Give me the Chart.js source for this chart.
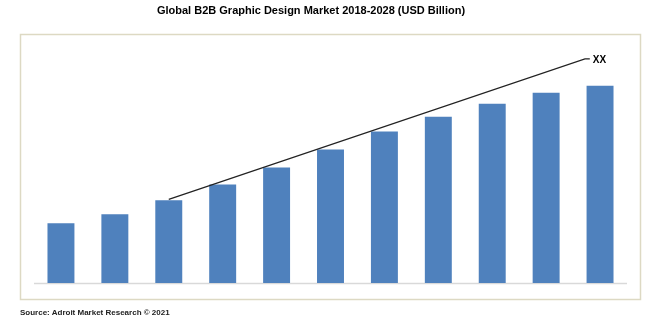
<!DOCTYPE html>
<html>
<head>
<meta charset="utf-8">
<script src="https://cdn.jsdelivr.net/npm/chart.js@4/dist/chart.umd.min.js"></script>
<style>
  html, body { margin: 0; padding: 0; background: #fff; }
  #wrap { position: relative; width: 661px; height: 329px; }
  #title {
    position: absolute; left: 0; top: 4px; width: 622px; text-align: center;
    font: bold 11px "Liberation Sans", Arial, sans-serif; color: #000;
  }
  #source {
    position: absolute; left: 20px; top: 308px;
    font: bold 8px "Liberation Sans", Arial, sans-serif; color: #222;
  }
  canvas { position: absolute; left: 0; top: 0; }
</style>
</head>
<body>
<div id="wrap">
  <canvas id="marketChart" width="661" height="329"></canvas>
  <div id="title">Global B2B Graphic Design Market 2018-2028 (USD Billion)</div>
  <div id="source">Source: Adroit Market Research © 2021</div>
</div>
<script>
var years = ['2018', '2019', '2020', '2021', '2022', '2023', '2024', '2025', '2026', '2027', '2028'];
var marketValues = [6.0, 6.9, 8.3, 9.9, 11.6, 13.4, 15.2, 16.7, 18.0, 19.1, 19.8];
// trend arrow drawn over the bars, x in category index units
var trendX = [2.0, 9.72, 9.81];
var trendY = [8.4, 22.5, 22.5];
var trendLabel = 'XX';
var yMax = 25;

document.addEventListener("DOMContentLoaded", function () {
    var boxPlugin = {
        id: 'box',
        beforeDraw: function (chart) {
            var c = chart.ctx, a = chart.chartArea;
            c.save();
            c.strokeStyle = '#ddd9c3';
            c.lineWidth = 1.5;
            c.strokeRect(20.5, 34.5, 620, 265);
            c.strokeStyle = '#d9d9d9';
            c.lineWidth = 1.5;
            c.beginPath();
            c.moveTo(a.left, a.bottom + 0.5);
            c.lineTo(a.right, a.bottom + 0.5);
            c.stroke();
            c.restore();
        },
        afterDatasetsDraw: function (chart) {
            var meta = chart.getDatasetMeta(1);
            var last = meta.data[meta.data.length - 1];
            var c = chart.ctx;
            c.save();
            c.font = 'bold 10px "Liberation Sans", Arial, sans-serif';
            c.fillStyle = '#000';
            c.textBaseline = 'middle';
            c.fillText(trendLabel, last.x + 3, last.y + 1);
            c.restore();
        }
    };

    var ctx = document.getElementById('marketChart').getContext('2d');
    new Chart(ctx, {
        data: {
            labels: years,
            datasets: [{
                type: 'bar',
                data: marketValues,
                backgroundColor: '#4f81bd',
                barPercentage: 0.5,
                categoryPercentage: 1.0,
                grouped: false,
                order: 2
            }, {
                type: 'line',
                xAxisID: 'x2',
                data: trendX.map(function (x, i) { return { x: x, y: trendY[i] }; }),
                borderColor: '#222',
                borderWidth: 1.2,
                pointRadius: 0,
                fill: false,
                order: 1
            }]
        },
        options: {
            responsive: false,
            animation: false,
            layout: { padding: { left: 34, right: 34, top: 34, bottom: 46 } },
            plugins: { legend: { display: false }, tooltip: { enabled: false } },
            scales: {
                x: { display: false, offset: true },
                x2: { type: 'linear', display: false, min: -0.5, max: 10.5 },
                y: { display: false, min: 0, max: yMax }
            }
        },
        plugins: [boxPlugin]
    });
});
</script>
</body>
</html>
